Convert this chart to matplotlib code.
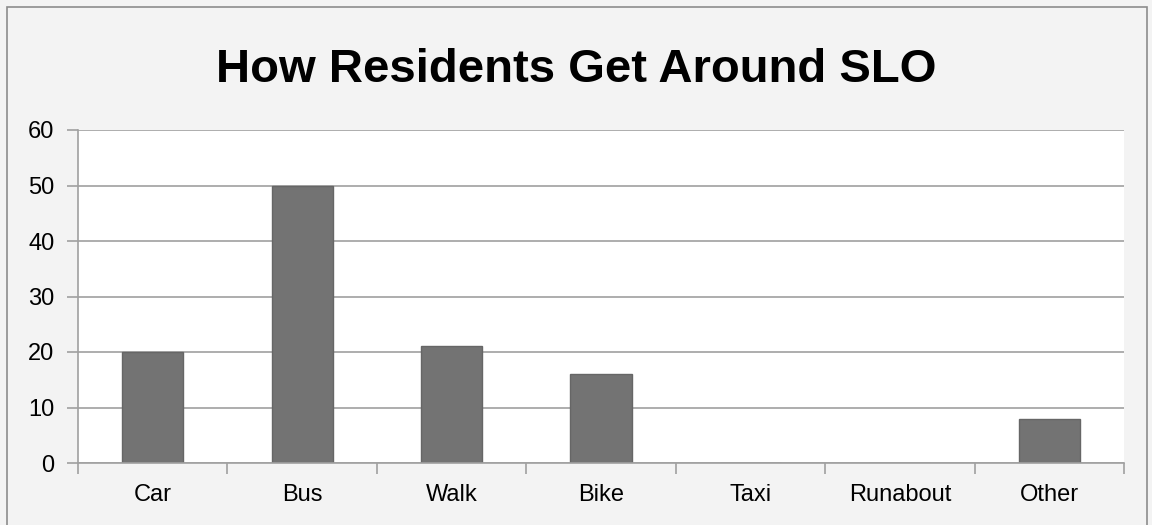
import matplotlib.pyplot as plt
from matplotlib.patches import Rectangle

categories = ['Car', 'Bus', 'Walk', 'Bike', 'Taxi', 'Runabout', 'Other']
values = [20, 50, 21, 16, 0, 0, 8]
y_ticks = [0, 10, 20, 30, 40, 50, 60]

plt.rcParams['font.family'] = ['Liberation Sans', 'DejaVu Sans']

W, H = 1152, 525
fig = plt.figure(figsize=(W / 100, H / 100), dpi=100)
fig.patch.set_facecolor('#f3f3f3')

# outer chart border (runs off the bottom edge like the reference)
fig.patches.append(Rectangle((7 / W, -0.05), 1140 / W, 1.05 - 7 / H,
                             transform=fig.transFigure, fill=False,
                             edgecolor='#8c8c8c', linewidth=1.2))

ax = fig.add_axes([78 / W, 1 - 463 / H, (1124 - 78) / W, (463 - 130) / H])
ax.set_facecolor('white')

x = range(len(categories))
ax.bar(x, values, width=0.41, color='#737373', edgecolor='#666666',
       linewidth=1.0, zorder=3)

ax.set_xlim(-0.5, len(categories) - 0.5)
ax.set_ylim(0, 60)
ax.set_yticks(y_ticks)
ax.set_yticklabels([str(v) for v in y_ticks], fontsize=17)
ax.yaxis.grid(True, color='#a0a0a0', linewidth=1.2, zorder=0)
ax.tick_params(axis='y', length=8, width=1.2, color='#a0a0a0', pad=9)

# categories centered, ticks at boundaries
ax.set_xticks(list(x))
ax.set_xticklabels(categories, fontsize=17)
ax.set_xticks([i - 0.5 for i in range(len(categories) + 1)], minor=True)
ax.tick_params(axis='x', which='major', length=0, pad=15)
ax.tick_params(axis='x', which='minor', length=8, width=1.2, color='#a0a0a0')

for side in ['top', 'right']:
    ax.spines[side].set_visible(False)
for side in ['left', 'bottom']:
    ax.spines[side].set_color('#a0a0a0')
    ax.spines[side].set_linewidth(1.2)
    ax.spines[side].set_zorder(4)

fig.text(0.5, 1 - 70 / H, 'How Residents Get Around SLO', ha='center',
         va='center', fontsize=34, fontweight='bold')

plt.savefig('out.png', dpi=100, facecolor=fig.get_facecolor())
